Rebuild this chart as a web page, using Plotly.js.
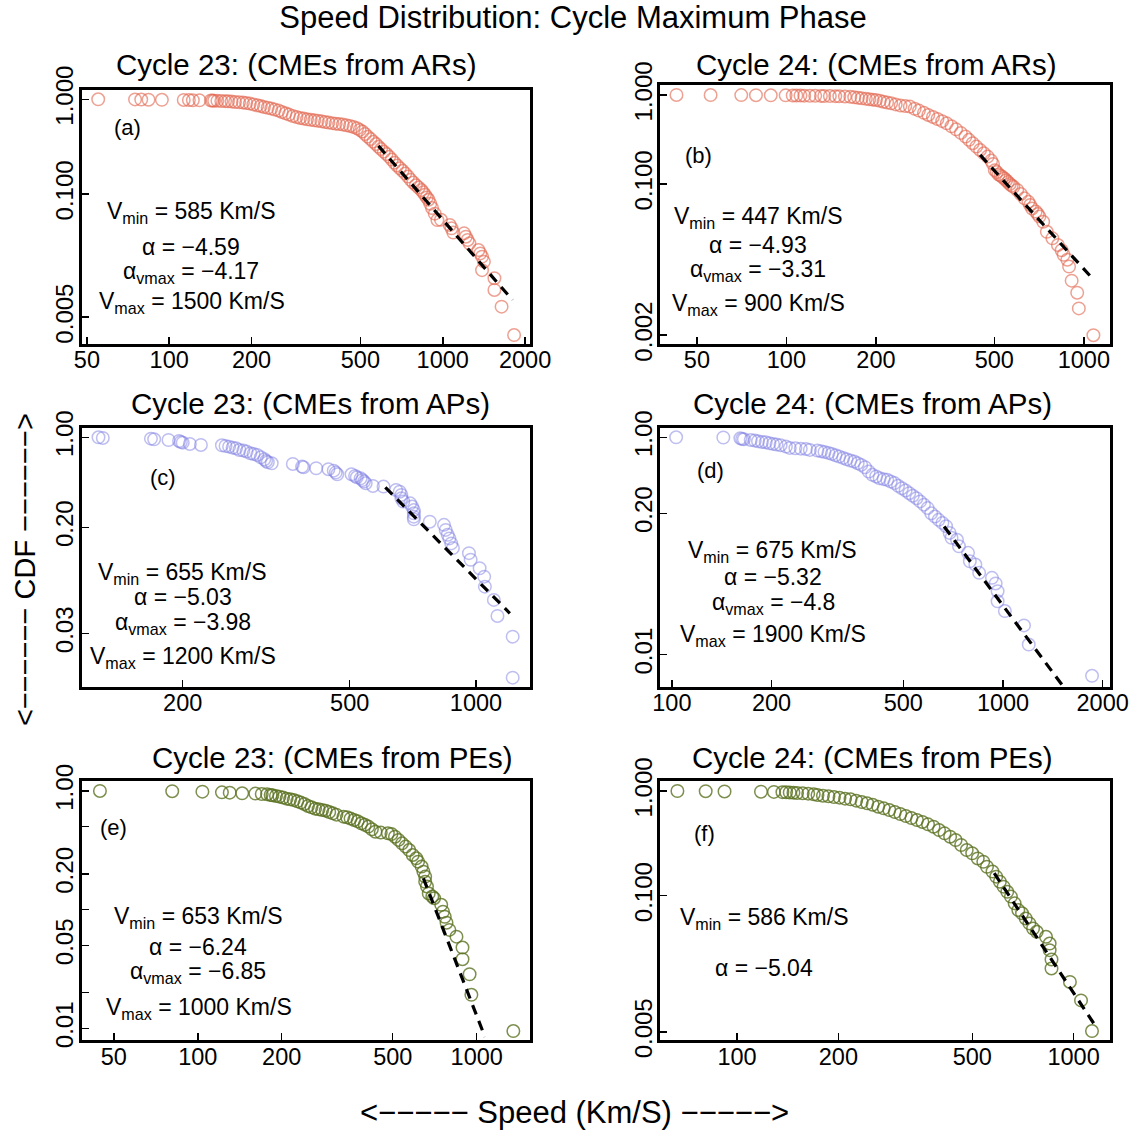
<!DOCTYPE html>
<html>
<head>
<meta charset="utf-8">
<script src="https://cdn.plot.ly/plotly-3.0.1.min.js"></script>
<style>html,body{margin:0;padding:0;background:#fff;}#chart{width:1137px;height:1134px;}</style>
</head>
<body>
<div id="chart"></div>
<script>
// ---------------- DATA ----------------
// (a) Cycle 23, CMEs from ARs
const aSpeed = [55,75,79,84,94,113,118,122,129,142,144,
 146,150,155,160,164,169,174,180,186,191,197,203,210,216,222,229,236,243,251,258,266,274,283,292,301,310,319,329,339,349,360,371,382,394,406,418,431,444,458,472,486,497,509,520,532,545,557,570,582,595,609,623,637,651,666,681,697,713,729,746,763,780,798,816,835,848,861,874,887,900,914,935,956,
 985,1061,1077,1093,1197,1215,1233,1252,1351,1372,1392,1414,1392,1545,1545,1641,1823];
const aCdf = [1,0.997,0.994,0.99,0.987,0.984,0.981,0.977,0.974,0.971,0.968,
 0.965,0.962,0.958,0.955,0.952,0.945,0.937,0.93,0.922,0.912,0.9,0.883,0.864,0.847,0.83,0.813,0.797,0.778,0.759,0.735,0.711,0.689,0.667,0.65,0.635,0.625,0.615,0.607,0.6,0.593,0.586,0.576,0.567,0.56,0.553,0.547,0.54,0.532,0.523,0.51,0.494,0.475,0.456,0.43,0.403,0.38,0.357,0.337,0.316,0.298,0.28,0.264,0.248,0.231,0.214,0.2,0.187,0.176,0.165,0.153,0.141,0.132,0.124,0.117,0.11,0.104,0.098,0.092,0.087,0.079,0.071,0.062,0.053,
 0.0534,0.0471,0.0434,0.0391,0.0384,0.0354,0.0327,0.0301,0.0256,0.0236,0.0218,0.0193,0.0157,0.0129,0.0097,0.00646,0.00324];
const aFitSpeed = [582, 1798];
const aFitCdf = [0.322, 0.0076];

// (b) Cycle 24, CMEs from ARs
const bSpeed = [42.7,55.6,70.5,79,88.6,99.4,105,108,111.5,114.8,119.8,125,130.6,134,140,146,150.6,157.3,164,
 169,174,179,185,190,195,200,206,212,218,225,233,242,251,260,270,279,290,300,311,322,334,346,359,372,386,400,411,423,435,448,461,475,488,495,
 502,510,517,525,532,540,548,556,564,572,580,597,614,632,651,660,670,689,700,709,730,
 751,784,818,842,855,880,892,910,950,962,1077];
const bCdf = [1,0.998,0.996,0.994,0.992,0.99,0.988,0.986,0.984,0.982,0.98,0.978,0.976,0.974,0.972,0.97,0.966,0.962,0.955,
 0.942,0.93,0.918,0.905,0.893,0.886,0.879,0.86,0.84,0.823,0.806,0.783,0.76,0.75,0.74,0.7,0.667,0.63,0.596,0.566,0.537,0.508,0.48,0.445,0.411,0.375,0.341,0.313,0.287,0.263,0.241,0.221,0.203,0.183,0.168,
 0.143,0.136,0.128,0.124,0.12,0.115,0.11,0.105,0.1,0.096,0.093,0.0856,0.077,0.0689,0.063,0.058,0.053,0.049,0.046,0.043,0.0376,
 0.029,0.0245,0.0206,0.018,0.016,0.0141,0.0118,0.0082,0.006,0.004,0.002];
const bFitSpeed = [448, 1075];
const bFitCdf = [0.212, 0.0085];

// (c) Cycle 23, CMEs from APs
const cSpeed = [126,129,168,171,185,196,198,200,208,221,
 248,253,258,263,268,273,279,284,290,295,301,307,313,316,319,326,
 366,385,388,416,445,458,463,467,
 505,515,520,531,536,541,546,568,602,
 645,658,664,664,671,697,704,711,711,711,711,
 776,839,847,856,864,873,881,
 962,971,1020,1046,1050,1103,1125,1223,1223];
const cCdf = [1,0.988,0.976,0.965,0.953,0.936,0.92,0.909,0.888,0.872,
 0.867,0.856,0.846,0.831,0.822,0.797,0.788,0.774,0.751,0.742,0.729,0.699,0.675,0.655,0.64,0.628,
 0.621,0.592,0.585,0.575,0.565,0.551,0.532,0.516,
 0.516,0.501,0.489,0.48,0.466,0.453,0.439,0.419,0.414,
 0.39,0.378,0.357,0.336,0.317,0.307,0.29,0.272,0.257,0.242,0.231,
 0.221,0.209,0.191,0.175,0.164,0.15,0.138,
 0.126,0.112,0.0962,0.0828,0.0692,0.0546,0.041,0.0283,0.0136];
const cFitSpeed = [608, 1204];
const cFitCdf = [0.409, 0.043];

// (d) Cycle 24, CMEs from APs
const dSpeed = [103,143,161,163,165,173,178,182,187,192,197,202,207,213,221,227,236,245,254,261,
 275,282,289,297,304,312,320,329,337,346,355,364,373,383,393,403,414,424,436,447,
 458,470,482,495,508,521,534,548,562,577,592,607,623,639,656,673,690,699,
 726,736,784,794,825,847,926,950,963,963,1013,1157,1196,1857];
const dCdf = [1,0.995,0.979,0.965,0.959,0.945,0.932,0.919,0.906,0.9,0.881,0.869,0.856,0.845,0.821,0.798,0.792,0.786,0.781,0.765,
 0.754,0.744,0.733,0.718,0.703,0.684,0.665,0.646,0.628,0.611,0.598,0.577,0.557,0.53,0.484,0.451,0.436,0.42,0.412,0.406,
 0.392,0.379,0.358,0.34,0.324,0.306,0.29,0.275,0.257,0.24,0.223,0.2,0.187,0.174,0.163,0.152,0.132,0.119,
 0.114,0.0994,0.0865,0.0724,0.0675,0.0566,0.0509,0.0452,0.0384,0.031,0.0252,0.0186,0.0124,0.0064];
const dFitSpeed = [664, 1506];
const dFitCdf = [0.151, 0.0053];

// (e) Cycle 23, CMEs from PEs
const eSpeed = [44.6,81,103.9,122.1,130.2,144.3,160.9,169.6,177.2,182.5,185.2,190.7,196.3,202.2,208.2,214.4,220.8,227.4,234.2,241.1,
 248.3,255.7,263.3,271.1,279.2,287.5,296,304.9,314,332.9,342.8,353,363.5,374.3,385.5,396.9,408.7,420.9,433.4,452.9,
 480.3,494.6,509.3,524.4,540,556.1,572.7,589.7,607.2,616.2,634.6,644,653.5,653.5,663.2,673,693.1,703.4,
 745.9,756.9,768.1,779.4,797.9,846.1,889.2,889.2,942.9,957,1353];
const eCdf = [1,0.995,0.987,0.974,0.968,0.956,0.95,0.943,0.937,0.925,0.919,0.908,0.896,0.879,0.862,0.851,0.839,0.818,0.798,0.777,
 0.748,0.729,0.71,0.701,0.692,0.683,0.665,0.648,0.632,0.608,0.6,0.585,0.57,0.555,0.534,0.52,0.501,0.476,0.454,0.446,
 0.44,0.434,0.412,0.387,0.362,0.34,0.318,0.289,0.271,0.254,0.231,0.209,0.19,0.172,0.157,0.137,0.129,0.125,
 0.11,0.0961,0.0872,0.0777,0.0676,0.0593,0.048,0.0383,0.0286,0.0192,0.0095];
const eFitSpeed = [644, 1070];
const eFitCdf = [0.184, 0.0085];

// (f) Cycle 24, CMEs from PEs
const fSpeed = [66.5,80.7,91.8,117.8,128.7,136.4,139.9,143.4,147.1,150.8,156.7,162.7,169,173.4,180,186.9,194.1,201.6,209.4,217.4,
 225.9,234.6,243.6,252.9,262.7,272.8,283.4,294.3,305.6,317.4,329.7,342.4,355.5,369.3,383.5,398.3,413.6,429.6,446.1,463.3,
 481.3,499.7,519,539.1,552.8,574.1,588.8,603.9,619.3,635.1,651.3,668,685,702.6,720.5,739,757.8,777.2,
 827.8,848.8,848.8,859.6,859.6,975,1052,1134];
const fCdf = [1,0.995,0.99,0.985,0.98,0.975,0.972,0.968,0.964,0.957,0.95,0.943,0.929,0.916,0.902,0.889,0.876,0.864,0.845,0.833,
 0.809,0.785,0.763,0.74,0.708,0.683,0.658,0.63,0.603,0.577,0.552,0.528,0.506,0.48,0.456,0.424,0.394,0.366,0.34,0.305,
 0.273,0.254,0.227,0.211,0.189,0.17,0.152,0.136,0.122,0.109,0.098,0.0845,0.0729,0.0679,0.0606,0.0544,0.0486,0.0452,
 0.0405,0.0349,0.0302,0.0246,0.0202,0.015,0.01,0.0051];
const fFitSpeed = [581, 1149];
const fFitCdf = [0.164, 0.006];

// Tick values / labels
const aXTicks = [50,100,200,500,1000,2000];
const bXTicks = [50,100,200,500,1000];
const cXTicks = [200,500,1000];
const dXTicks = [100,200,500,1000,2000];
const eXTicks = [50,100,200,500,1000];
const fXTicks = [100,200,500,1000];
const aYTicks = [1,0.1,0.005];   const aYLabels = ['1.000','0.100','0.005'];
const bYTicks = [1,0.1,0.002];   const bYLabels = ['1.000','0.100','0.002'];
const cYTicks = [1,0.2,0.03];    const cYLabels = ['1.00','0.20','0.03'];
const dYTicks = [1,0.2,0.01];    const dYLabels = ['1.00','0.20','0.01'];
const eYTicks = [1,0.5,0.2,0.1,0.05,0.02,0.01]; const eYLabels = ['1.00','','0.20','','0.05','','0.01'];
const fYTicks = [1,0.1,0.005];   const fYLabels = ['1.000','0.100','0.005'];

const panelTitles = ['Cycle 23: (CMEs from ARs)','Cycle 24: (CMEs from ARs)','Cycle 23: (CMEs from APs)',
                     'Cycle 24: (CMEs from APs)','Cycle 23: (CMEs from PEs)','Cycle 24: (CMEs from PEs)'];
const panelTags = ['(a)','(b)','(c)','(d)','(e)','(f)'];
const panelStats = [
  ['V<sub>min</sub> = 585 Km/S','α = −4.59','α<sub>vmax</sub> = −4.17','V<sub>max</sub> = 1500 Km/S'],
  ['V<sub>min</sub> = 447 Km/S','α = −4.93','α<sub>vmax</sub> = −3.31','V<sub>max</sub> = 900 Km/S'],
  ['V<sub>min</sub> = 655 Km/S','α = −5.03','α<sub>vmax</sub> = −3.98','V<sub>max</sub> = 1200 Km/S'],
  ['V<sub>min</sub> = 675 Km/S','α = −5.32','α<sub>vmax</sub> = −4.8','V<sub>max</sub> = 1900 Km/S'],
  ['V<sub>min</sub> = 653 Km/S','α = −6.24','α<sub>vmax</sub> = −6.85','V<sub>max</sub> = 1000 Km/S'],
  ['V<sub>min</sub> = 586 Km/S','α = −5.04']
];

// ---------------- LAYOUT / STYLE ----------------
const W = 1137, H = 1134;
const FONT = 'Liberation Sans, Arial, Helvetica, sans-serif';
const SALMON = 'rgba(226,104,80,0.62)';
const LAV = 'rgba(125,125,228,0.5)';
const OLIVE = 'rgba(88,112,30,0.78)';
const px = v => v / W;
const py = v => 1 - v / H;

const panels = [
  {xs:aSpeed, ys:aCdf, fx:aFitSpeed, fy:aFitCdf, col:SALMON, xd:[81.7,530], yd:[90,344], xr:[1.680,3.319], yr:[-2.584,0.098], xt:aXTicks, yt:aYTicks, yl:aYLabels,
   title:[296,65], tag:[127,127], stats:[[191,213],[191,247],[191,272],[192,302]]},
  {xs:bSpeed, ys:bCdf, fx:bFitSpeed, fy:bFitCdf, col:SALMON, xd:[660.3,1110.3], yd:[85,344], xr:[1.576,3.089], yr:[-2.798,0.112], xt:bXTicks, yt:bYTicks, yl:bYLabels,
   title:[876,65], tag:[698,155], stats:[[758,218],[758,245],[758,270],[758,305]]},
  {xs:cSpeed, ys:cCdf, fx:cFitSpeed, fy:cFitCdf, col:LAV, xd:[81.7,530], yd:[427.7,687], xr:[2.0603,3.1287], yr:[-1.939,0.0745], xt:cXTicks, yt:cYTicks, yl:cYLabels,
   title:[310,403], tag:[163,477], stats:[[182,573],[183,597],[183,623],[183,657]]},
  {xs:dSpeed, ys:dCdf, fx:dFitSpeed, fy:dFitCdf, col:LAV, xd:[660.3,1110.3], yd:[427.7,687], xr:[1.965,3.324], yr:[-2.297,0.088], xt:dXTicks, yt:dYTicks, yl:dYLabels,
   title:[872,403], tag:[710,470], stats:[[772,551],[773,577],[773,603],[773,635]]},
  {xs:eSpeed, ys:eCdf, fx:eFitSpeed, fy:eFitCdf, col:OLIVE, xd:[81.7,530], yd:[781,1040.3], xr:[1.584,3.191], yr:[-2.100,0.084], xt:eXTicks, yt:eYTicks, yl:eYLabels,
   title:[332,757], tag:[113,827], stats:[[198,917],[198,947],[198,972],[199,1008]]},
  {xs:fSpeed, ys:fCdf, fx:fFitSpeed, fy:fFitCdf, col:OLIVE, xd:[660.3,1110.3], yd:[781,1040.3], xr:[1.772,3.109], yr:[-2.381,0.0955], xt:fXTicks, yt:fYTicks, yl:fYLabels,
   title:[872,757], tag:[704,833], stats:[[764,918],[764,968]]}
];

const traces = [];
const layout = {
  width: W, height: H,
  margin: {l:0, r:0, t:0, b:0},
  paper_bgcolor: '#fff', plot_bgcolor: '#fff',
  showlegend: false,
  font: {family: FONT, color: '#000', size: 23},
  title: {text: 'Speed Distribution: Cycle Maximum Phase', x: 573/W, xanchor: 'center', y: 1 - 17/H, yref: 'container', yanchor: 'middle',
          font: {family: FONT, size: 31, color: '#000'}},
  annotations: []
};

panels.forEach((p, i) => {
  const n = i === 0 ? '' : String(i + 1);
  const xa = 'x' + n, ya = 'y' + n;
  traces.push({
    type: 'scatter', mode: 'markers', x: p.xs, y: p.ys, xaxis: xa, yaxis: ya,
    marker: {symbol: 'circle-open', size: 12.5, color: p.col, line: {width: 1.5, color: p.col}},
    hoverinfo: 'skip'
  });
  traces.push({
    type: 'scatter', mode: 'lines', x: p.fx, y: p.fy, xaxis: xa, yaxis: ya,
    line: {color: '#000', width: 3.2, dash: '10px,7px'}, hoverinfo: 'skip'
  });
  const common = {
    type: 'log', showline: true, mirror: true, linewidth: 3, linecolor: '#000',
    ticks: 'inside', ticklen: 7, tickwidth: 1.5, tickcolor: '#000',
    showgrid: false, zeroline: false, tickmode: 'array'
  };
  layout['xaxis' + n] = Object.assign({}, common, {
    domain: [px(p.xd[0]), px(p.xd[1])], range: p.xr, anchor: ya,
    tickvals: p.xt, ticktext: p.xt.map(String), ticklabelstandoff: -7,
    tickfont: {family: FONT, size: 23.5, color: '#000'}
  });
  layout['yaxis' + n] = Object.assign({}, common, {
    domain: [py(p.yd[1]), py(p.yd[0])], range: p.yr, anchor: xa,
    tickvals: p.yt, ticktext: p.yl, tickangle: -90, ticklabelstandoff: -4,
    tickfont: {family: FONT, size: 24, color: '#000'}
  });
  layout.annotations.push({xref:'paper', yref:'paper', x:px(p.title[0]), y:py(p.title[1]), xanchor:'center', yanchor:'middle',
    text: panelTitles[i], showarrow:false, font:{family:FONT, size:29.5, color:'#000'}});
  layout.annotations.push({xref:'paper', yref:'paper', x:px(p.tag[0]), y:py(p.tag[1]), xanchor:'center', yanchor:'middle',
    text: panelTags[i], showarrow:false, font:{family:FONT, size:22, color:'#000'}});
  panelStats[i].forEach((s, k) => {
    layout.annotations.push({xref:'paper', yref:'paper', x:px(p.stats[k][0]), y:py(p.stats[k][1]), xanchor:'center', yanchor:'middle',
      text: s, showarrow:false, font:{family:FONT, size:23, color:'#000'}});
  });
});

layout.annotations.push({xref:'paper', yref:'paper', x:px(574), y:py(1112), xanchor:'center', yanchor:'middle',
  text:'&lt;−−−−− Speed (Km/S) −−−−−&gt;', showarrow:false, font:{family:FONT, size:31, color:'#000'}});
layout.annotations.push({xref:'paper', yref:'paper', x:px(25), y:py(570), xanchor:'center', yanchor:'middle', textangle:-90,
  text:'&lt;−−−−−− CDF −−−−−−&gt;', showarrow:false, font:{family:FONT, size:29, color:'#000'}});

Plotly.newPlot('chart', traces, layout, {displayModeBar: false, staticPlot: true});
</script>
</body>
</html>
